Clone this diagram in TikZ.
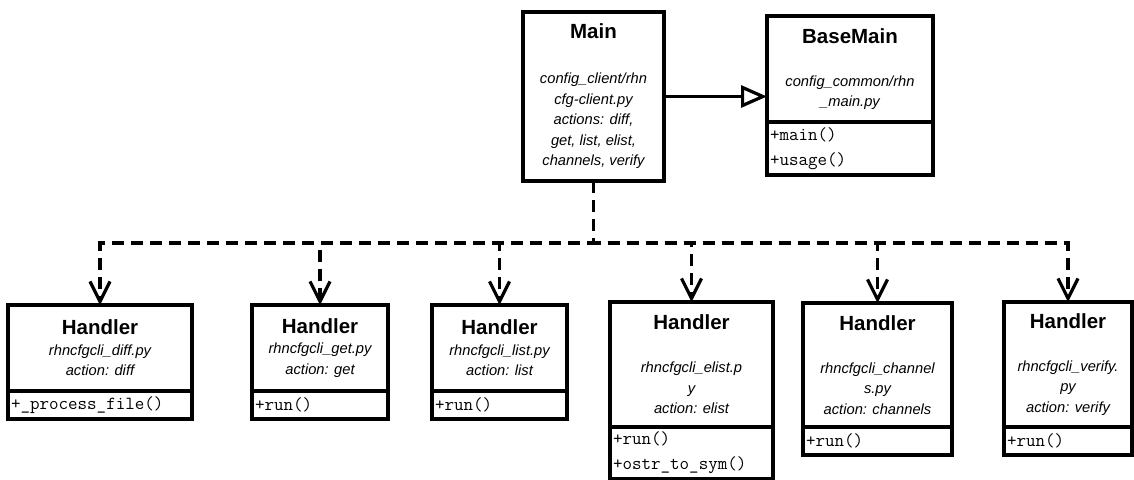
\documentclass[tikz,border=0pt]{standalone}
\usepackage{fontspec}
\setmainfont{Liberation Sans}
\usetikzlibrary{arrows.meta,positioning}
\newcommand{\clsname}[1]{{\fontsize{20.5}{20.5}\selectfont\bfseries\upshape #1}}

\begin{document}
\begin{tikzpicture}[
  x=1pt, y=-1pt,
  node distance=0pt,
  every node/.style={outer sep=0pt},
  cls/.style={draw, line width=3.2pt, inner sep=0pt, align=center,
    font=\fontsize{14.7}{20.5}\selectfont\itshape},
  ops/.style={draw, line width=3.2pt, inner xsep=3pt, inner ysep=2pt,
    text width=#1, align=left, font=\fontsize{18.5}{25}\selectfont\ttfamily},
  inherit/.style={line width=3.2pt, -{Triangle[open, length=26pt, width=22pt]}},
  dep/.style={line width=3.2pt, dash pattern=on 12pt off 7pt,
    -{Straight Barb[length=20pt, width=20pt]}}
]
\useasboundingbox (0,0) rectangle (1134,479);

\node[cls, minimum width=141pt, minimum height=169pt] (main) at (593.5,96.5)
  {\clsname{Main}\\[24.5pt] config\_client/rhn\\cfg-client.py\\actions: diff,\\get, list, elist,\\channels, verify};
\node[cls, minimum width=166pt, minimum height=106pt] (base) at (850,69)
  {\clsname{BaseMain}\\[22.5pt] config\_common/rhn\\\_main.py};
\node[ops=160pt, minimum height=53pt, below=of base] (baseops) {+main()\\+usage()};

\node[cls, minimum width=184pt, minimum height=86pt] (diff) at (100,348)
  {\clsname{Handler}\\rhncfgcli\_diff.py\\action: diff};
\node[ops=178pt, minimum height=28pt, below=of diff] (diffops) {+\_process\_file()};

\node[cls, minimum width=136pt, minimum height=86pt] (get) at (320,348)
  {\clsname{Handler}\\rhncfgcli\_get.py\\action: get};
\node[ops=130pt, minimum height=28pt, below=of get] (getops) {+run()};

\node[cls, minimum width=135pt, minimum height=86pt] (list) at (499.5,348)
  {\clsname{Handler}\\rhncfgcli\_list.py\\action: list};
\node[ops=129pt, minimum height=28pt, below=of list] (listops) {+run()};

\node[cls, minimum width=163pt, minimum height=125pt] (elist) at (691.5,364.5)
  {\clsname{Handler}\\[22.5pt] rhncfgcli\_elist.p\\y\\action: elist};
\node[ops=157pt, minimum height=52pt, below=of elist] (elistops) {+run()\\+ostr\_to\_sym()};

\node[cls, minimum width=149pt, minimum height=124pt] (chan) at (877.5,365)
  {\clsname{Handler}\\[22.5pt] rhncfgcli\_channel\\s.py\\action: channels};
\node[ops=143pt, minimum height=28pt, below=of chan] (chanops) {+run()};

\node[cls, minimum width=128pt, minimum height=125pt] (verify) at (1068,364.5)
  {\clsname{Handler}\\[22.5pt] rhncfgcli\_verify.\\py\\action: verify};
\node[ops=122pt, minimum height=28pt, below=of verify] (verifyops) {+run()};

\draw[inherit] (main.east) -- (main.east -| base.west);

\coordinate (bus) at (593.5,243);
\foreach \n in {diff,get,list,elist,chan,verify}
  \draw[dep] (main.south) -- (bus) -| (\n.north);
\end{tikzpicture}
\end{document}
